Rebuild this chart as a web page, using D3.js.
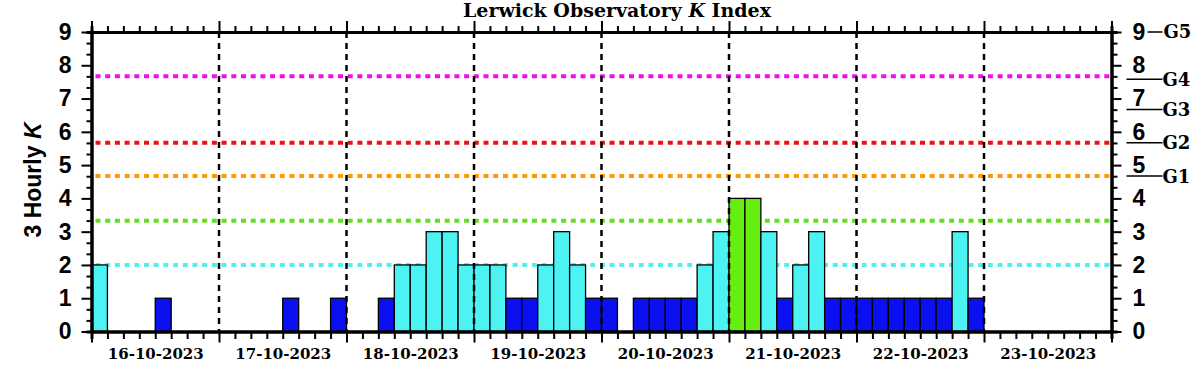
<!DOCTYPE html>
<html>
<head>
<title>Lerwick Observatory K Index</title>
<script src="https://d3js.org/d3.v7.min.js"></script>
<style>
  body { margin: 0; padding: 0; background: #fff; }
  .serif { font-family: "DejaVu Serif", serif; font-weight: bold; }
  .sans { font-family: "Liberation Sans", Arial, sans-serif; font-weight: bold; }
</style>
</head>
<body>
<div id="chart"></div>
<script>
// --- data ---
var days = ["16-10-2023", "17-10-2023", "18-10-2023", "19-10-2023",
            "20-10-2023", "21-10-2023", "22-10-2023", "23-10-2023"];
// eight 3-hourly K values per day (00-03 ... 21-24 UT), empty = no data yet
var kDay16 = [2, 0, 0, 0, 1, 0, 0, 0];
var kDay17 = [0, 0, 0, 0, 1, 0, 0, 1];
var kDay18 = [0, 0, 1, 2, 2, 3, 3, 2];
var kDay19 = [2, 2, 1, 1, 2, 3, 2, 1];
var kDay20 = [1, 0, 1, 1, 1, 1, 2, 3];
var kDay21 = [4, 4, 3, 1, 2, 3, 1, 1];
var kDay22 = [1, 1, 1, 1, 1, 1, 3, 1];
var kDay23 = [];
var kValues = [kDay16, kDay17, kDay18, kDay19, kDay20, kDay21, kDay22, kDay23];

var yTicks = [0, 1, 2, 3, 4, 5, 6, 7, 8, 9];
var thresholds = [2, 3.33, 4.67, 5.67, 7.67];
var thresholdColors = ["#55eeee", "#66dd22", "#ff9900", "#ee1111", "#ee11ee"];
var gNames = ["G1", "G2", "G3", "G4"];
var gLevels = [4.67, 5.67, 6.67, 7.58];

var width = 1202, height = 374;
// note: "top" clashes with window.top, so use plot* names
var plotL = 91.5, plotR = 1111.5, plotT = 32, plotB = 331.5;

var svg = d3.select("#chart").append("svg")
    .attr("width", width)
    .attr("height", height);

var parse = d3.utcParse("%d-%m-%Y");
var start = parse(days[0]);
var end = d3.utcDay.offset(parse(days[days.length - 1]), 1);

var x = d3.scaleUtc().domain([start, end]).range([plotL, plotR]);
var y = d3.scaleLinear().domain([0, 9]).range([plotB, plotT]);

// flatten to bars
var bars = [];
kValues.forEach(function(vals, di) {
    var d0 = parse(days[di]);
    vals.forEach(function(k, i) {
        var t0 = d3.utcHour.offset(d0, i * 3);
        bars.push({ t0: t0, t1: d3.utcHour.offset(t0, 3), k: k });
    });
});

function barColor(k) {
    if (k <= 1) return "#0a10f0";
    if (k <= 3) return "#4df3f3";
    if (k == 4) return "#66ee11";
    if (k == 5) return "#ff9900";
    return "#ee1111";
}

// threshold lines (behind bars)
svg.selectAll(".thr")
    .data(thresholds)
    .enter().append("line")
    .attr("class", "thr")
    .attr("x1", plotL + 4).attr("x2", plotR - 2)
    .attr("y1", function(d) { return y(d); })
    .attr("y2", function(d) { return y(d); })
    .attr("stroke", function(d, i) { return thresholdColors[i]; })
    .attr("stroke-width", 4)
    .attr("stroke-dasharray", "5,4.7");

svg.selectAll(".bar")
    .data(bars.filter(function(d) { return d.k > 0; }))
    .enter().append("rect")
    .attr("class", "bar")
    .attr("x", function(d) { return x(d.t0); })
    .attr("width", function(d) { return x(d.t1) - x(d.t0); })
    .attr("y", function(d) { return y(d.k); })
    .attr("height", function(d) { return y(0) - y(d.k); })
    .attr("fill", function(d) { return barColor(d.k); })
    .attr("stroke", "#000")
    .attr("stroke-width", 1.3);

// day separators
var dayStarts = days.map(function(d) { return parse(d); });
svg.selectAll(".daysep")
    .data(dayStarts.slice(1))
    .enter().append("line")
    .attr("class", "daysep")
    .attr("x1", function(d) { return x(d); })
    .attr("x2", function(d) { return x(d); })
    .attr("y1", plotT).attr("y2", plotB)
    .attr("stroke", "#000")
    .attr("stroke-width", 2.5)
    .attr("stroke-dasharray", "6,5");

// axes
var minorY = d3.range(0, 27).map(function(i) { return i / 3; }).filter(function(v, i) { return i % 3 != 0; });
var minorX = d3.utcHour.every(3).range(start, end).filter(function(d) { return d.getUTCHours() != 0; });

function styleAxis(g, w) {
    g.select(".domain").attr("stroke-width", 3);
    g.selectAll(".tick line").attr("stroke-width", w || 2);
}

var leftAx = svg.append("g").attr("transform", "translate(" + plotL + ",0)")
    .call(d3.axisLeft(y).tickValues(yTicks).tickSize(10).tickSizeOuter(0).tickPadding(10).tickFormat(d3.format("d")));
styleAxis(leftAx);
svg.append("g").attr("transform", "translate(" + plotL + ",0)")
    .call(d3.axisLeft(y).tickValues(minorY).tickSize(5).tickFormat("")).call(styleAxis);

var rightAx = svg.append("g").attr("transform", "translate(" + plotR + ",0)")
    .call(d3.axisRight(y).tickValues(yTicks).tickSize(10).tickSizeOuter(0).tickPadding(11).tickFormat(d3.format("d")));
styleAxis(rightAx);
svg.append("g").attr("transform", "translate(" + plotR + ",0)")
    .call(d3.axisRight(y).tickValues(minorY).tickSize(6).tickFormat("")).call(styleAxis);

[leftAx, rightAx].forEach(function(g) {
    g.selectAll(".tick text").attr("class", "sans").style("font-size", "23px").attr("fill", "#000");
});

svg.append("g").attr("transform", "translate(0," + plotT + ")")
    .call(d3.axisTop(x).tickValues(dayStarts.concat([end])).tickSize(11).tickSizeOuter(0).tickFormat("")).call(styleAxis);
svg.append("g").attr("transform", "translate(0," + plotT + ")")
    .call(d3.axisTop(x).tickValues(minorX).tickSize(6).tickFormat("")).call(styleAxis);

svg.append("g").attr("transform", "translate(0," + plotB + ")")
    .call(d3.axisBottom(x).tickValues(dayStarts.concat([end])).tickSize(11).tickSizeOuter(0).tickFormat("")).call(styleAxis);
svg.append("g").attr("transform", "translate(0," + plotB + ")")
    .call(d3.axisBottom(x).tickValues(minorX).tickSize(7.5).tickFormat("")).call(styleAxis);

// day labels centred on noon
var noon = dayStarts.map(function(d) { return d3.utcHour.offset(d, 12); });
var dayAx = svg.append("g").attr("transform", "translate(0," + plotB + ")")
    .call(d3.axisBottom(x).tickValues(noon).tickSize(0).tickPadding(17)
        .tickFormat(function(d, i) { return days[i]; }));
dayAx.select(".domain").remove();
dayAx.selectAll(".tick text").attr("class", "serif").style("font-size", "15px").attr("fill", "#000");

// G scale on the right
var gx = plotR + 15;
svg.selectAll(".gline")
    .data(gLevels)
    .enter().append("line")
    .attr("x1", gx).attr("x2", gx + 36)
    .attr("y1", function(d) { return y(d); })
    .attr("y2", function(d) { return y(d); })
    .attr("stroke", "#000").attr("stroke-width", 1.5);
svg.selectAll(".glabel")
    .data(gLevels)
    .enter().append("text")
    .attr("class", "serif")
    .attr("x", gx + 36)
    .attr("y", function(d) { return y(d); })
    .attr("dy", "0.36em")
    .style("font-size", "18px")
    .text(function(d, i) { return gNames[i]; });
svg.append("line")
    .attr("x1", gx + 21).attr("x2", gx + 36)
    .attr("y1", y(9)).attr("y2", y(9))
    .attr("stroke", "#000").attr("stroke-width", 1.5);
svg.append("text")
    .attr("class", "serif")
    .attr("x", gx + 37).attr("y", y(9)).attr("dy", "0.36em")
    .style("font-size", "18px")
    .text("G5");

// titles
var title = svg.append("text")
    .attr("class", "serif")
    .attr("x", 617).attr("y", 17)
    .attr("text-anchor", "middle")
    .style("font-size", "19px");
title.append("tspan").text("Lerwick Observatory ");
title.append("tspan").style("font-style", "italic").text("K");
title.append("tspan").text(" Index");

var ylab = svg.append("text")
    .attr("class", "sans")
    .attr("transform", "translate(41,180) rotate(-90)")
    .attr("text-anchor", "middle")
    .style("font-size", "23px");
ylab.append("tspan").text("3 Hourly ");
ylab.append("tspan").style("font-style", "italic").text("K");
</script>
</body>
</html>
